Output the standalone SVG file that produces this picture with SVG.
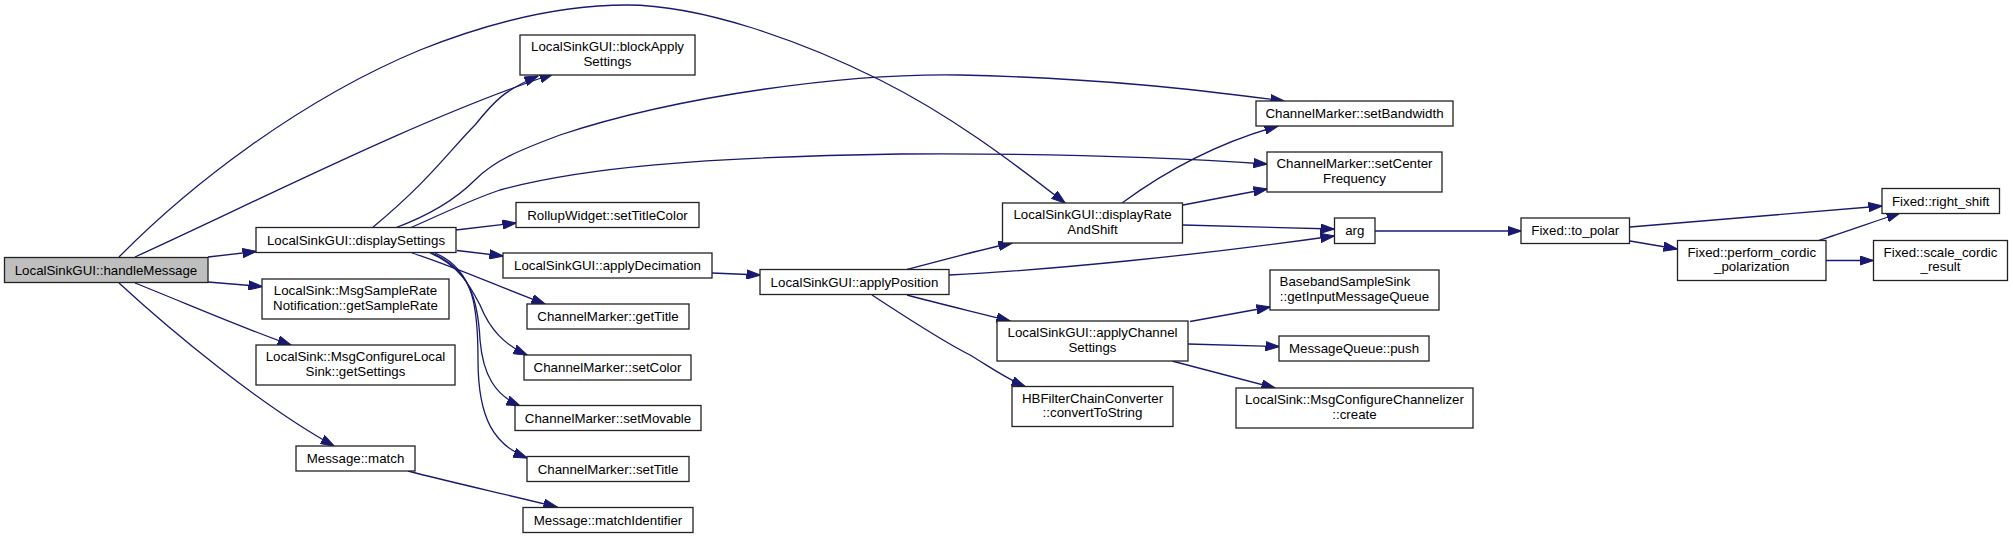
<svg xmlns="http://www.w3.org/2000/svg" width="2013" height="538" viewBox="0 0 2013 538">
<style>
.n rect{fill:#fff;stroke:#222;stroke-width:1.3}
.n.root rect{fill:#bfbfbf}
.n text{font-family:"Liberation Sans",Arial,sans-serif;font-size:13.3px;fill:#000;text-anchor:middle}
.e path{fill:none;stroke:#191970;stroke-width:1.3;marker-end:url(#ah)}
</style>
<defs>
<marker id="ah" markerUnits="userSpaceOnUse" markerWidth="14" markerHeight="10" viewBox="0 0 14 10" refX="13.5" refY="5" orient="auto">
<path d="M0,0.3 L14,5 L0,9.7 z" fill="#191970" stroke="#191970" stroke-width="1"/>
</marker>
</defs>
<rect width="2013" height="538" fill="#fff"/>
<g id="edges" class="e">
<path d="M208,257 L256,251.5"/>
<path d="M208,282 L262,286.5"/>
<path d="M135,283 C190,305 240,327 291,345"/>
<path d="M119,283 C170,330 260,405 334,446"/>
<path d="M135,257 C260,200 420,118 553,74"/>
<path d="M119,257 C190,185 300,100 420,50 C490,22 560,5 627,5 C700,5 800,40 880,80 C950,115 1010,160 1065,203"/>
<path d="M372,228 C430,180 450,150 475,125 C495,100 505,90 538,76"/>
<path d="M395,228 C430,215 455,200 475,180 C495,160 520,150 560,135 C680,95 850,73 960,75 C1100,78 1200,90 1284,101"/>
<path d="M410,228 C440,215 470,200 500,190 C580,168 700,157 900,154 C1050,153 1180,158 1267,164"/>
<path d="M456,230 L516,223"/>
<path d="M457,250.5 L503,256"/>
<path d="M412,253 C450,265 490,283 545,304"/>
<path d="M430,253 C460,265 472,290 480,305 C490,330 505,345 527,355"/>
<path d="M432,253 C470,270 478,300 480,340 C483,375 495,395 520,406"/>
<path d="M435,253 C475,270 478,310 478,360 C478,420 495,445 527,458"/>
<path d="M408,471 C450,482 500,493 557,507"/>
<path d="M712,273 L760,275"/>
<path d="M907,269.5 C940,261 975,251 1012,243"/>
<path d="M949,275 C1050,270 1200,255 1334,236"/>
<path d="M907,295 C940,304 975,312 1010,321"/>
<path d="M872,295 C910,320 950,345 970,355 C990,367 1005,378 1025,386.5"/>
<path d="M1122,203 C1160,175 1210,145 1278,126"/>
<path d="M1183,205 C1210,200 1240,194 1267,189"/>
<path d="M1183,225 L1334,229"/>
<path d="M1375,231 L1521,231"/>
<path d="M1630,227 L1882,206"/>
<path d="M1630,241 L1677,249"/>
<path d="M1817,241 C1845,232 1870,223 1900,213"/>
<path d="M1826,260.5 L1873,260.5"/>
<path d="M1190,321.5 L1270,307"/>
<path d="M1188,344 L1279,346.5"/>
<path d="M1172,361 L1275,388"/>
</g>
<g id="n_handleMessage" class="n root"><rect x="4.5" y="257.5" width="203.5" height="25"/><text x="106" y="274.5">LocalSinkGUI::handleMessage</text></g>
<g id="n_displaySettings" class="n"><rect x="256" y="227.5" width="200" height="25"/><text x="356" y="244.5">LocalSinkGUI::displaySettings</text></g>
<g id="n_getSampleRate" class="n"><rect x="262" y="279" width="187" height="40"/><text x="355.5" y="295">LocalSink::MsgSampleRate</text><text x="355.5" y="309.5">Notification::getSampleRate</text></g>
<g id="n_getSettings" class="n"><rect x="256" y="345" width="199" height="40"/><text x="355.5" y="361">LocalSink::MsgConfigureLocal</text><text x="355.5" y="375.5">Sink::getSettings</text></g>
<g id="n_match" class="n"><rect x="296" y="446" width="119" height="25"/><text x="355.5" y="463">Message::match</text></g>
<g id="n_blockApply" class="n"><rect x="520" y="35" width="175" height="40"/><text x="607.5" y="51">LocalSinkGUI::blockApply</text><text x="607.5" y="65.5">Settings</text></g>
<g id="n_setTitleColor" class="n"><rect x="516" y="202.5" width="183" height="25"/><text x="607.5" y="219.5">RollupWidget::setTitleColor</text></g>
<g id="n_applyDecimation" class="n"><rect x="503" y="253" width="209" height="25"/><text x="607.5" y="270">LocalSinkGUI::applyDecimation</text></g>
<g id="n_getTitle" class="n"><rect x="527" y="304" width="162" height="25"/><text x="608" y="321">ChannelMarker::getTitle</text></g>
<g id="n_setColor" class="n"><rect x="524" y="355" width="167" height="25"/><text x="607.5" y="372">ChannelMarker::setColor</text></g>
<g id="n_setMovable" class="n"><rect x="515" y="405.5" width="186" height="25"/><text x="608" y="422.5">ChannelMarker::setMovable</text></g>
<g id="n_setTitle" class="n"><rect x="527" y="456.5" width="162" height="25"/><text x="608" y="473.5">ChannelMarker::setTitle</text></g>
<g id="n_matchIdentifier" class="n"><rect x="523" y="507.5" width="170" height="25"/><text x="608" y="524.5">Message::matchIdentifier</text></g>
<g id="n_applyPosition" class="n"><rect x="760" y="269.5" width="189" height="25"/><text x="854.5" y="286.5">LocalSinkGUI::applyPosition</text></g>
<g id="n_setBandwidth" class="n"><rect x="1256" y="101" width="197" height="25"/><text x="1354.5" y="118">ChannelMarker::setBandwidth</text></g>
<g id="n_setCenterFrequency" class="n"><rect x="1267" y="152" width="175" height="40"/><text x="1354.5" y="168">ChannelMarker::setCenter</text><text x="1354.5" y="182.5">Frequency</text></g>
<g id="n_displayRateAndShift" class="n"><rect x="1002.5" y="203" width="180" height="40"/><text x="1092.5" y="219">LocalSinkGUI::displayRate</text><text x="1092.5" y="233.5">AndShift</text></g>
<g id="n_arg" class="n"><rect x="1334.5" y="218" width="40.5" height="25.5"/><text x="1354.75" y="235">arg</text></g>
<g id="n_getInputMessageQueue" class="n"><rect x="1270" y="270" width="169" height="40"/><text x="1345" y="286">BasebandSampleSink</text><text x="1354.5" y="300.5">::getInputMessageQueue</text></g>
<g id="n_push" class="n"><rect x="1279" y="336" width="150" height="25"/><text x="1354" y="353">MessageQueue::push</text></g>
<g id="n_create" class="n"><rect x="1236" y="388" width="237" height="40"/><text x="1354.5" y="404">LocalSink::MsgConfigureChannelizer</text><text x="1354.5" y="418.5">::create</text></g>
<g id="n_applyChannelSettings" class="n"><rect x="997" y="321" width="191" height="40"/><text x="1092.5" y="337">LocalSinkGUI::applyChannel</text><text x="1092.5" y="351.5">Settings</text></g>
<g id="n_convertToString" class="n"><rect x="1012" y="386.5" width="161" height="40"/><text x="1092.5" y="402.5">HBFilterChainConverter</text><text x="1092.5" y="417">::convertToString</text></g>
<g id="n_to_polar" class="n"><rect x="1521" y="218" width="108.5" height="25.5"/><text x="1575.25" y="235">Fixed::to_polar</text></g>
<g id="n_right_shift" class="n"><rect x="1882" y="188.5" width="117.5" height="25"/><text x="1940.75" y="205.5">Fixed::right_shift</text></g>
<g id="n_perform_cordic" class="n"><rect x="1677.5" y="240.5" width="148.5" height="40"/><text x="1751.75" y="256.5">Fixed::perform_cordic</text><text x="1751.75" y="271">_polarization</text></g>
<g id="n_scale_cordic" class="n"><rect x="1873.5" y="240.5" width="134" height="40"/><text x="1940.5" y="256.5">Fixed::scale_cordic</text><text x="1940.5" y="271">_result</text></g>
</svg>
